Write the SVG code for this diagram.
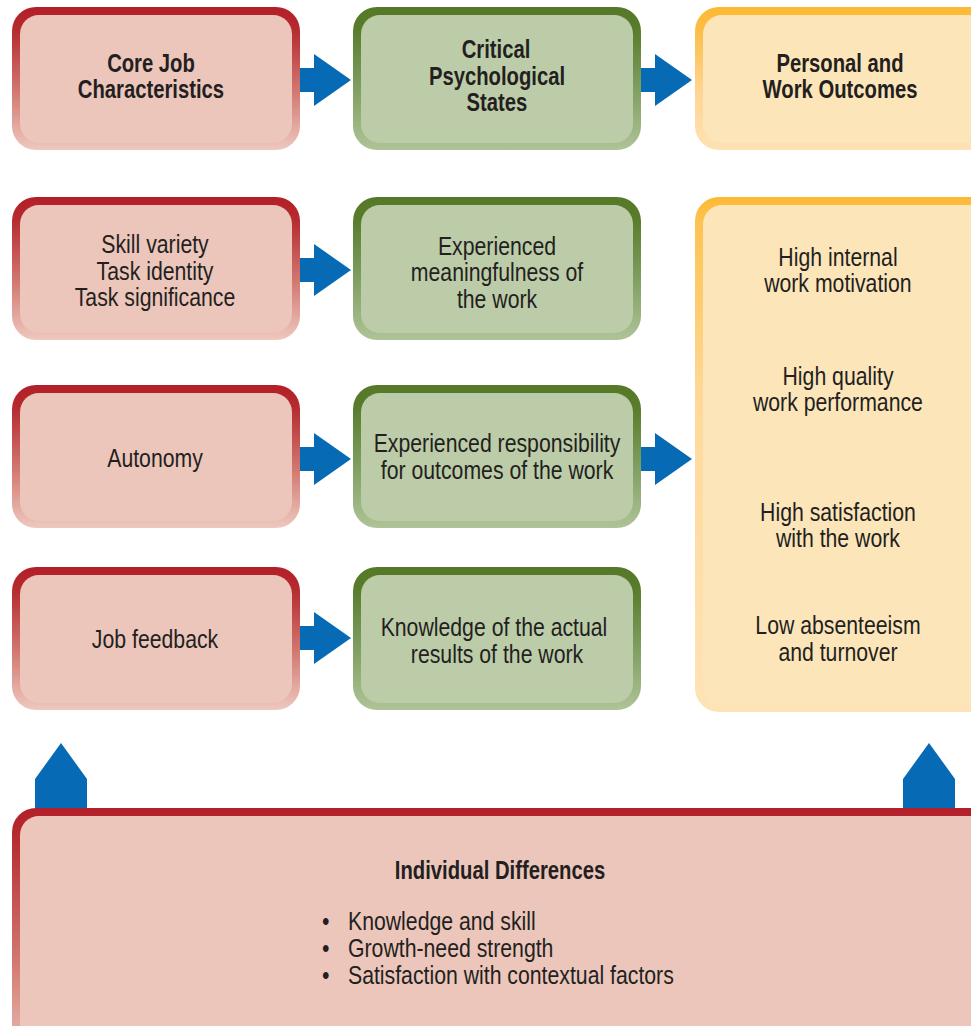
<svg xmlns="http://www.w3.org/2000/svg" width="971" height="1026" viewBox="0 0 971 1026">
  <defs>
    <linearGradient id="gRed" x1="0" y1="0" x2="0" y2="1">
      <stop offset="0" stop-color="#B31F29"/>
      <stop offset="0.15" stop-color="#B52A2E"/>
      <stop offset="0.6" stop-color="#D27A72"/>
      <stop offset="1" stop-color="#EEC8BE"/>
    </linearGradient>
    <linearGradient id="gRedTall" x1="0" y1="0" x2="0" y2="1">
      <stop offset="0" stop-color="#B31F29"/>
      <stop offset="0.1" stop-color="#B52A2E"/>
      <stop offset="0.6" stop-color="#D27A72"/>
      <stop offset="1" stop-color="#EEC8BE"/>
    </linearGradient>
    <linearGradient id="gGreen" x1="0" y1="0" x2="0" y2="1">
      <stop offset="0" stop-color="#557927"/>
      <stop offset="0.15" stop-color="#587C2C"/>
      <stop offset="0.6" stop-color="#82A164"/>
      <stop offset="1" stop-color="#AFC398"/>
    </linearGradient>
    <linearGradient id="gYellow" x1="0" y1="0" x2="0" y2="1">
      <stop offset="0" stop-color="#FDB934"/>
      <stop offset="0.15" stop-color="#FDBD45"/>
      <stop offset="0.6" stop-color="#FED594"/>
      <stop offset="1" stop-color="#FEE2B4"/>
    </linearGradient>
    <linearGradient id="gYellowTall" x1="0" y1="0" x2="0" y2="1">
      <stop offset="0" stop-color="#FDB934"/>
      <stop offset="0.05" stop-color="#FDC352"/>
      <stop offset="0.4" stop-color="#FED999"/>
      <stop offset="1" stop-color="#FEE3B6"/>
    </linearGradient>
    <!-- right-pointing block arrow, origin at shaft start / centreline -->
    <path id="arrowR" d="M0,-12 L14,-12 L14,-26 L51,0 L14,26 L14,12 L0,12 Z"/>
    <!-- upward block arrow, origin at base centre -->
    <path id="arrowU" d="M-26,0 L-26,-31 L0,-67 L26,-31 L26,0 Z"/>
  </defs>
  <style>
    .txt { font-family: "Liberation Sans", Arial, sans-serif; font-size: 25px; fill: #231F20; text-anchor: middle;
           transform-box: fill-box; transform-origin: center; transform: scaleX(0.85); }
    .bold { font-weight: bold; transform: scaleX(0.81); }
    .left { text-anchor: start; transform-origin: left center; }
    .fRed { fill: #ECC6BB; }
    .fGreen { fill: #BCCCA8; }
    .fYellow { fill: #FDE5BA; }
    .arrow { fill: #066BB4; }
  </style>

  <rect width="971" height="1026" fill="#FFFFFF"/>

  <!-- connectors -->
  <g id="connectors" class="arrow">
    <use href="#arrowR" x="300" y="80"/>
    <use href="#arrowR" x="641" y="80"/>
    <use href="#arrowR" x="300" y="270"/>
    <use href="#arrowR" x="300" y="459"/>
    <use href="#arrowR" x="641" y="459"/>
    <use href="#arrowR" x="300" y="638"/>
    <use href="#arrowU" x="61" y="810"/>
    <use href="#arrowU" x="929" y="810"/>
  </g>

  <!-- header row -->
  <g id="core-job-characteristics">
    <rect x="12" y="7" width="288" height="143" rx="24" fill="url(#gRed)"/>
    <rect x="20" y="15" width="272" height="128" rx="19" class="fRed"/>
    <text class="txt bold" x="151" y="72">Core Job</text>
    <text class="txt bold" x="151" y="98">Characteristics</text>
  </g>
  <g id="critical-psychological-states">
    <rect x="353" y="7" width="288" height="143" rx="24" fill="url(#gGreen)"/>
    <rect x="361" y="15" width="272" height="128" rx="19" class="fGreen"/>
    <text class="txt bold" x="496" y="58">Critical</text>
    <text class="txt bold" x="497" y="85">Psychological</text>
    <text class="txt bold" x="497" y="111">States</text>
  </g>
  <g id="personal-work-outcomes">
    <rect x="695" y="7" width="300" height="143" rx="24" fill="url(#gYellow)"/>
    <rect x="703" y="15" width="284" height="128" rx="19" class="fYellow"/>
    <text class="txt bold" x="840" y="72">Personal and</text>
    <text class="txt bold" x="840" y="98">Work Outcomes</text>
  </g>

  <!-- core job dimensions -->
  <g id="skill-task">
    <rect x="12" y="197" width="288" height="143" rx="24" fill="url(#gRed)"/>
    <rect x="20" y="205" width="272" height="128" rx="19" class="fRed"/>
    <text class="txt" x="155" y="253">Skill variety</text>
    <text class="txt" x="155" y="280">Task identity</text>
    <text class="txt" x="155" y="306">Task significance</text>
  </g>
  <g id="autonomy">
    <rect x="12" y="385" width="288" height="143" rx="24" fill="url(#gRed)"/>
    <rect x="20" y="393" width="272" height="128" rx="19" class="fRed"/>
    <text class="txt" x="155" y="467">Autonomy</text>
  </g>
  <g id="job-feedback">
    <rect x="12" y="567" width="288" height="143" rx="24" fill="url(#gRed)"/>
    <rect x="20" y="575" width="272" height="128" rx="19" class="fRed"/>
    <text class="txt" x="155" y="648">Job feedback</text>
  </g>

  <!-- psychological states -->
  <g id="meaningfulness">
    <rect x="353" y="197" width="288" height="143" rx="24" fill="url(#gGreen)"/>
    <rect x="361" y="205" width="272" height="128" rx="19" class="fGreen"/>
    <text class="txt" x="497" y="255">Experienced</text>
    <text class="txt" x="497" y="281">meaningfulness of</text>
    <text class="txt" x="497" y="308">the work</text>
  </g>
  <g id="responsibility">
    <rect x="353" y="385" width="288" height="143" rx="24" fill="url(#gGreen)"/>
    <rect x="361" y="393" width="272" height="128" rx="19" class="fGreen"/>
    <text class="txt" x="497" y="452">Experienced responsibility</text>
    <text class="txt" x="497" y="479">for outcomes of the work</text>
  </g>
  <g id="knowledge-of-results">
    <rect x="353" y="567" width="288" height="143" rx="24" fill="url(#gGreen)"/>
    <rect x="361" y="575" width="272" height="128" rx="19" class="fGreen"/>
    <text class="txt" x="494" y="636">Knowledge of the actual</text>
    <text class="txt" x="497" y="663">results of the work</text>
  </g>

  <!-- outcomes -->
  <g id="outcomes">
    <rect x="695" y="197" width="300" height="515" rx="24" fill="url(#gYellowTall)"/>
    <rect x="703" y="205" width="284" height="500" rx="19" class="fYellow"/>
    <text class="txt" x="838" y="266">High internal</text>
    <text class="txt" x="838" y="292">work motivation</text>
    <text class="txt" x="838" y="385">High quality</text>
    <text class="txt" x="838" y="411">work performance</text>
    <text class="txt" x="838" y="521">High satisfaction</text>
    <text class="txt" x="838" y="547">with the work</text>
    <text class="txt" x="838" y="634">Low absenteeism</text>
    <text class="txt" x="838" y="661">and turnover</text>
  </g>

  <!-- moderators -->
  <g id="individual-differences">
    <rect x="12" y="808" width="990" height="260" rx="24" fill="url(#gRedTall)"/>
    <rect x="20" y="816" width="974" height="240" rx="19" class="fRed"/>
    <text class="txt bold" x="500" y="879">Individual Differences</text>
    <text class="txt left" x="322" y="930">•</text>
    <text class="txt left" x="348" y="930">Knowledge and skill</text>
    <text class="txt left" x="322" y="957">•</text>
    <text class="txt left" x="348" y="957">Growth-need strength</text>
    <text class="txt left" x="322" y="984">•</text>
    <text class="txt left" x="348" y="984">Satisfaction with contextual factors</text>
  </g>
</svg>
